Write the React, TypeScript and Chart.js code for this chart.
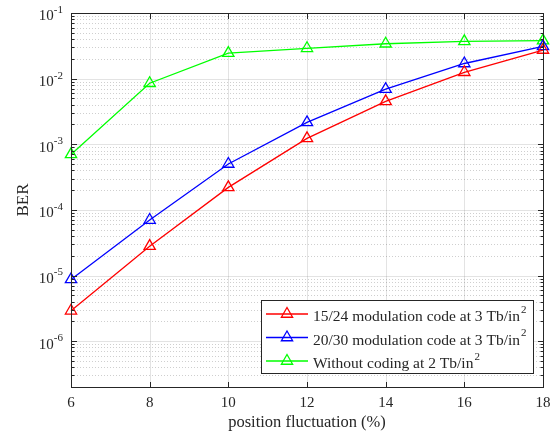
import React, { useEffect, useRef } from 'react';
import { Chart, registerables } from 'chart.js';

Chart.register(...registerables);

// ---- data ----
const positions = [6, 8, 10, 12, 14, 16, 18];
const ber1524 = [2.9e-6, 2.8e-5, 2.2e-4, 1.23e-3, 4.5e-3, 1.25e-2, 2.73e-2];
const ber2030 = [8.7e-6, 7.0e-5, 5.0e-4, 2.15e-3, 6.9e-3, 1.7e-2, 3.1e-2];
const berUncoded = [7.0e-4, 8.5e-3, 2.45e-2, 2.9e-2, 3.4e-2, 3.7e-2, 3.8e-2];
const seriesLabels = [
  '15/24 modulation code at 3 Tb/in',
  '20/30 modulation code at 3 Tb/in',
  'Without coding at 2 Tb/in',
];
const seriesSuperscript = ['2', '2', '2'];
const seriesColors = ['#ff0000', '#0000ff', '#00ff00'];
const xTickValues = [6, 8, 10, 12, 14, 16, 18];
const yDecadeExponents = [-6, -5, -4, -3, -2, -1];
const xTitle = 'position fluctuation (%)';
const yTitle = 'BER';

const SERIF = '"Liberation Serif", "Times New Roman", serif';
const INK = '#262626';

function drawTriangle(ctx: CanvasRenderingContext2D, x: number, y: number, r: number) {
  let rad = 0;
  const two3 = (2 * Math.PI) / 3;
  ctx.beginPath();
  ctx.moveTo(x + Math.sin(rad) * r, y - Math.cos(rad) * r);
  rad += two3;
  ctx.lineTo(x + Math.sin(rad) * r, y - Math.cos(rad) * r);
  rad += two3;
  ctx.lineTo(x + Math.sin(rad) * r, y - Math.cos(rad) * r);
  ctx.closePath();
  ctx.stroke();
}

export default function App() {
  const ref = useRef<HTMLCanvasElement>(null);

  useEffect(() => {
    const canvas = ref.current;
    if (!canvas) return;
    const yMin = 2e-7;
    const yMax = 1e-1;

    const axesPlugin = {
      id: 'matlabAxes',
      beforeDatasetsDraw(chart: any) {
        const { ctx, chartArea: a, scales } = chart;
        const xs = scales.x;
        const ys = scales.y;
        ctx.save();
        ctx.lineWidth = 1;
        // minor horizontal dotted grid
        ctx.strokeStyle = 'rgba(38,38,38,0.22)';
        ctx.setLineDash([1, 2]);
        for (let e = -7; e <= -2; e++) {
          for (let m = 2; m <= 9; m++) {
            const v = m * Math.pow(10, e);
            if (v < yMin || v > yMax) continue;
            const py = Math.round(ys.getPixelForValue(v)) + 0.5;
            ctx.beginPath();
            ctx.moveTo(a.left, py);
            ctx.lineTo(a.right, py);
            ctx.stroke();
          }
        }
        ctx.setLineDash([]);
        // major grid
        ctx.strokeStyle = 'rgba(38,38,38,0.13)';
        for (const e of yDecadeExponents) {
          const py = Math.round(ys.getPixelForValue(Math.pow(10, e))) + 0.5;
          ctx.beginPath();
          ctx.moveTo(a.left, py);
          ctx.lineTo(a.right, py);
          ctx.stroke();
        }
        for (const t of xTickValues) {
          const px = Math.round(xs.getPixelForValue(t)) + 0.5;
          ctx.beginPath();
          ctx.moveTo(px, a.top);
          ctx.lineTo(px, a.bottom);
          ctx.stroke();
        }
        ctx.restore();
      },
      afterDatasetsDraw(chart: any) {
        const { ctx, chartArea: a, scales } = chart;
        const xs = scales.x;
        const ys = scales.y;
        ctx.save();
        ctx.strokeStyle = INK;
        ctx.lineWidth = 1;
        const L = Math.round(a.left) + 0.5;
        const R = Math.round(a.right) + 0.5;
        const T = Math.round(a.top) + 0.5;
        const B = Math.round(a.bottom) + 0.5;
        ctx.strokeRect(L, T, R - L, B - T);
        const major = 5.5;
        const minor = 3;
        ctx.beginPath();
        for (const t of xTickValues) {
          const px = Math.round(xs.getPixelForValue(t)) + 0.5;
          ctx.moveTo(px, B);
          ctx.lineTo(px, B - major);
          ctx.moveTo(px, T);
          ctx.lineTo(px, T + major);
        }
        for (let e = -7; e <= -1; e++) {
          for (let m = 1; m <= 9; m++) {
            const v = m * Math.pow(10, e);
            if (v < yMin || v > yMax * 1.0001) continue;
            const len = m === 1 ? major : minor;
            const py = Math.round(ys.getPixelForValue(v)) + 0.5;
            ctx.moveTo(L, py);
            ctx.lineTo(L + len, py);
            ctx.moveTo(R, py);
            ctx.lineTo(R - len, py);
          }
        }
        ctx.stroke();

        // tick labels
        ctx.fillStyle = INK;
        ctx.font = `15px ${SERIF}`;
        ctx.textAlign = 'center';
        ctx.textBaseline = 'middle';
        for (const t of xTickValues) {
          ctx.fillText(String(t), xs.getPixelForValue(t), a.bottom + 16);
        }
        for (const e of yDecadeExponents) {
          const py = ys.getPixelForValue(Math.pow(10, e));
          const sup = String(e);
          ctx.font = `11px ${SERIF}`;
          const supW = ctx.measureText(sup).width;
          const right = a.left - 8;
          ctx.textAlign = 'left';
          ctx.fillText(sup, right - supW, py - 3);
          ctx.font = `15px ${SERIF}`;
          ctx.textAlign = 'right';
          ctx.fillText('10', right - supW, py + 3.5);
        }
        // axis titles
        ctx.font = `16.5px ${SERIF}`;
        ctx.textAlign = 'center';
        ctx.fillText(xTitle, (a.left + a.right) / 2, a.bottom + 36);
        ctx.save();
        ctx.font = `17px ${SERIF}`;
        ctx.translate(24, (a.top + a.bottom) / 2);
        ctx.rotate(-Math.PI / 2);
        ctx.fillText(yTitle, 0, 0);
        ctx.restore();

        // legend
        const LF = 15.5;
        const SF = 11;
        let maxW = 0;
        for (let i = 0; i < seriesLabels.length; i++) {
          ctx.font = `${LF}px ${SERIF}`;
          let w = ctx.measureText(seriesLabels[i]).width;
          ctx.font = `${SF}px ${SERIF}`;
          w += ctx.measureText(seriesSuperscript[i]).width + 1;
          maxW = Math.max(maxW, w);
        }
        const boxW = Math.round(52 + maxW + 6);
        const boxH = 73;
        const boxR = Math.round(a.right) - 10;
        const boxB = Math.round(a.bottom) - 14;
        const boxL = boxR - boxW;
        const boxT = boxB - boxH;
        ctx.fillStyle = '#ffffff';
        ctx.fillRect(boxL, boxT, boxW, boxH);
        ctx.strokeStyle = INK;
        ctx.lineWidth = 1;
        ctx.strokeRect(boxL + 0.5, boxT + 0.5, boxW, boxH);
        const rowY = [14, 37.5, 61];
        for (let i = 0; i < seriesLabels.length; i++) {
          const ry = boxT + rowY[i];
          ctx.strokeStyle = seriesColors[i];
          ctx.lineWidth = 1.3;
          ctx.beginPath();
          ctx.moveTo(boxL + 5, ry);
          ctx.lineTo(boxL + 47, ry);
          ctx.stroke();
          drawTriangle(ctx, boxL + 26, ry, 6.5);
          ctx.fillStyle = INK;
          ctx.font = `${LF}px ${SERIF}`;
          ctx.textAlign = 'left';
          ctx.fillText(seriesLabels[i], boxL + 52, ry + 3);
          const tw = ctx.measureText(seriesLabels[i]).width;
          ctx.font = `${SF}px ${SERIF}`;
          ctx.fillText(seriesSuperscript[i], boxL + 52 + tw + 1, ry - 4);
        }
        ctx.restore();
      },
    };

    const mk = (i: number, values: number[]) => ({
      label: seriesLabels[i] + seriesSuperscript[i],
      data: positions.map((x, k) => ({ x, y: values[k] })),
      borderColor: seriesColors[i],
      backgroundColor: 'rgba(0,0,0,0)',
      borderWidth: 1.3,
      pointStyle: 'triangle',
      pointRadius: 6.5,
      pointBorderWidth: 1.3,
      pointBorderColor: seriesColors[i],
      pointBackgroundColor: 'rgba(0,0,0,0)',
      tension: 0,
      clip: false as any,
    });

    const chart = new Chart(canvas, {
      type: 'line',
      data: {
        datasets: [mk(0, ber1524), mk(1, ber2030), mk(2, berUncoded)],
      },
      options: {
        animation: false,
        responsive: false,
        devicePixelRatio: 1,
        layout: { padding: { left: 0, top: 13, right: 14, bottom: 0 } },
        plugins: {
          legend: { display: false },
          tooltip: { enabled: false },
        },
        scales: {
          x: {
            type: 'linear',
            min: 6,
            max: 18,
            ticks: { display: false, stepSize: 2 },
            grid: { display: false },
            border: { display: false },
            afterFit: (s: any) => {
              s.height = 45;
            },
          },
          y: {
            type: 'logarithmic',
            min: yMin,
            max: yMax,
            ticks: { display: false },
            grid: { display: false },
            border: { display: false },
            afterFit: (s: any) => {
              s.width = 71;
            },
          },
        },
      } as any,
      plugins: [axesPlugin],
    });
    return () => chart.destroy();
  }, []);

  return (
    <div style={{ position: 'absolute', left: 0, top: 0, width: 557, height: 432, background: '#fff' }}>
      <canvas ref={ref} width={557} height={432} style={{ width: 557, height: 432, display: 'block' }} />
    </div>
  );
}
